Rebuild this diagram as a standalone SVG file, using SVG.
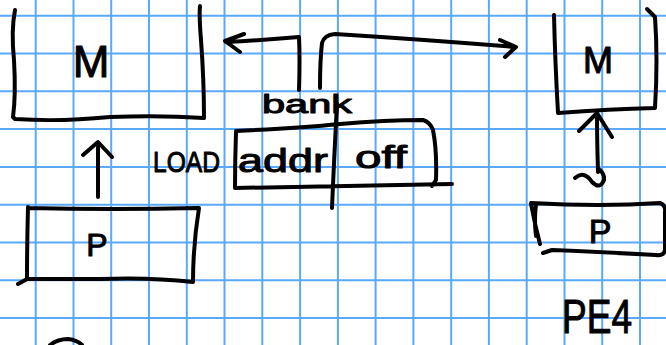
<svg xmlns="http://www.w3.org/2000/svg" width="666" height="345" viewBox="0 0 666 345">
  <style>
    .grid { stroke: #5aa9ff; stroke-width: 2; fill: none; }
    .ink { stroke: #000; stroke-width: 4; fill: none; stroke-linecap: round; stroke-linejoin: round; }
    .lbl { font-family: "Liberation Sans", "DejaVu Sans", sans-serif; fill: #000; stroke: #000; stroke-width: 1; stroke-linejoin: round; }
  </style>

  <!-- graph paper -->
  <rect width="666" height="345" fill="#fff"/>
  <path class="grid" d="M35.7 0V345M73.5 0V345M111.2 0V345M149 0V345M186.8 0V345M224.5 0V345M262.3 0V345M300.1 0V345M337.9 0V345M375.6 0V345M413.4 0V345M451.2 0V345M488.9 0V345M526.7 0V345M564.5 0V345M602.2 0V345M640 0V345"/>
  <path class="grid" d="M0 15.7H666M0 53.5H666M0 91.3H666M0 129.1H666M0 166.9H666M0 204.7H666M0 242.5H666M0 280.3H666M0 318.1H666"/>

  <!-- memory, left -->
  <g id="mem-left">
    <path class="ink" d="M15 10 Q11 30 14 60 Q16 95 13 117 L15 119 Q60 122 110 117 Q160 115 204 118 Q204 80 201 40 Q199 15 200 6"/>
    <text class="lbl" x="91" y="77" font-size="44" text-anchor="middle">M</text>
  </g>

  <!-- processor, left -->
  <g id="proc-left">
    <path class="ink" d="M28 207 Q27 245 27 279 L18 284 M28 208 Q110 210 199 208 Q193 245 193 282 Q150 277 100 279 Q60 279 28 279"/>
    <text class="lbl" x="97" y="256" font-size="32" text-anchor="middle">P</text>
  </g>

  <!-- instruction word -->
  <g id="instr">
    <text class="lbl" x="153" y="172" font-size="30" textLength="67" lengthAdjust="spacingAndGlyphs">LOAD</text>
    <path class="ink" d="M236 132 Q235 160 235 188 M236 131 Q300 128 340 124 Q385 120 423 120 Q430 122 433 130 Q437 150 436 180 L432 186 M235 188 Q330 186 452 184 M337 104 Q334 160 332 208"/>
    <text class="lbl" x="238" y="172" font-size="34" textLength="90" lengthAdjust="spacingAndGlyphs">addr</text>
    <text class="lbl" x="355" y="168" font-size="32" textLength="52" lengthAdjust="spacingAndGlyphs">off</text>
  </g>

  <g id="bank-label">
    <text class="lbl" x="262" y="113" font-size="26" textLength="90" lengthAdjust="spacingAndGlyphs">bank</text>
  </g>

  <!-- memory, right -->
  <g id="mem-right">
    <path class="ink" d="M554 15 Q555 60 558 113 Q610 109 655 108 Q658 60 655 17 L647 9"/>
    <text class="lbl" x="598" y="73" font-size="36" text-anchor="middle">M</text>
  </g>

  <!-- processor, right -->
  <g id="proc-right">
    <path class="ink" d="M531 204 Q535 225 540 244 M536 204 Q534 220 536 236 M531 203 Q600 207 660 203 Q666 205 665 212 L665 250 Q664 256 656 255 Q600 252 552 250 L543 253"/>
    <text class="lbl" x="600" y="243" font-size="34" text-anchor="middle">P</text>
  </g>

  <g id="pe-label">
    <text class="lbl" x="562" y="333" font-size="48" textLength="70" lengthAdjust="spacingAndGlyphs">PE4</text>
  </g>

  <!-- partial stroke at the bottom edge -->
  <path class="ink" d="M50 345 Q58 339 68 339 Q77 340 82 345"/>

  <!-- connectors -->
  <g id="connectors">
    <!-- P to M, left -->
    <path class="ink" d="M98 197 L98 143 M83 155 L98 142 L112 157"/>
    <!-- bank select, back to left memory -->
    <path class="ink" d="M299 90 Q300 60 299 37 Q265 40 226 42 M244 34 L225 41 L240 52"/>
    <!-- bank select, out to right memory -->
    <path class="ink" d="M320 88 Q320 60 322 43 Q324 35 335 34 Q430 40 515 47 M500 40 L516 47 L505 57"/>
    <!-- P to M, right, two-way -->
    <path class="ink" d="M598 172 Q597 140 597 113 M579 131 L597 113 L612 137 M575 178 Q584 170 592 182 Q600 190 604 180 Q605 175 600 170"/>
  </g>
</svg>
